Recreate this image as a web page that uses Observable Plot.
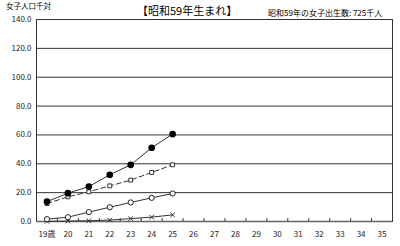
<!DOCTYPE html>
<html><head><meta charset="utf-8">
<script src="https://cdn.jsdelivr.net/npm/d3@7"></script>
<script src="https://cdn.jsdelivr.net/npm/@observablehq/plot@0.6"></script>
<style>
body{margin:0;background:#fff;font-family:"Noto Sans CJK JP",sans-serif;}
#wrap{position:relative;width:400px;height:246px;}
.t{position:absolute;white-space:nowrap;color:#000;line-height:1;}
</style></head><body>
<div id="wrap">
<div class="t" style="left:6px;top:2px;font-size:7.5px;">女子人口千対</div>
<div class="t" style="left:137px;top:5px;font-size:11px;">【昭和59年生まれ】</div>
<div class="t" style="left:268px;top:9px;font-size:8px;">昭和59年の女子出生数: 725千人</div>
</div>
<script>
const ages = [19,20,21,22,23,24,25,26,27,28,29,30,31,32,33,34,35];
const dataAges = [19,20,21,22,23,24,25];
const seriesA = [13.8,19.6,24.2,32.4,39.3,51.1,60.6];   // filled circles
const seriesB = [12.4,17.1,20.6,24.7,28.7,34.0,39.3];   // squares, dashed
const seriesC = [1.6,3.0,6.5,9.9,13.2,16.4,19.4];       // open circles
const seriesD = [0.1,0.3,0.5,1.0,2.0,3.0,4.6];          // x marks
const yTicks = [0,20,40,60,80,100,120,140];

const mk = s => dataAges.map((a,i)=>({age:a, v:s[i]}));
const A = mk(seriesA), B = mk(seriesB), C = mk(seriesC), D = mk(seriesD);
const between = ages.slice(0,-1).map(a=>a+0.5);

const plot = Plot.plot({
  width:400, height:246,
  marginLeft:36, marginRight:8, marginTop:19, marginBottom:25,
  style:{fontFamily:'"Noto Sans CJK JP",sans-serif', fontSize:"8px", color:"#222", background:"transparent"},
  x:{domain:[18.5,35.5], axis:null},
  y:{domain:[0,140], axis:null},
  marks:[
    Plot.ruleY(yTicks.filter(d=>d>0 && d<140), {stroke:"#333", strokeWidth:1}),
    Plot.frame({stroke:"#333", strokeWidth:1}),
    Plot.ruleY([0], {stroke:"#666", strokeWidth:1.5}),
    Plot.ruleX(between, {y1:0, y2:2, stroke:"#333"}),
    Plot.axisY({ticks:yTicks, tickSize:0, tickPadding:5, label:null, tickFormat:d=>d.toFixed(1)}),
    Plot.axisX({ticks:ages, tickSize:0, tickPadding:10, label:null, tickFormat:d=>d===19?"19歳":String(d)}),
    Plot.line(D,{x:"age",y:"v",stroke:"#333",strokeWidth:1}),
    Plot.dot(D,{x:"age",y:"v",symbol:"times",r:2.2,stroke:"#333",strokeWidth:1}),
    Plot.line(C,{x:"age",y:"v",stroke:"#333",strokeWidth:1}),
    Plot.dot(C,{x:"age",y:"v",symbol:"circle",r:2.6,stroke:"#222",fill:"white",strokeWidth:1}),
    Plot.line(B,{x:"age",y:"v",stroke:"#333",strokeWidth:1,strokeDasharray:"5,3"}),
    Plot.dot(B,{x:"age",y:"v",symbol:"square",r:2.2,stroke:"#333",fill:"white",strokeWidth:1}),
    Plot.line(A,{x:"age",y:"v",stroke:"#333",strokeWidth:1}),
    Plot.dot(A,{x:"age",y:"v",symbol:"circle",r:2.6,fill:"#000",stroke:"#000"})
  ]
});
plot.style.position="absolute"; plot.style.left="0"; plot.style.top="0";
document.getElementById("wrap").prepend(plot);
</script>
</body></html>
